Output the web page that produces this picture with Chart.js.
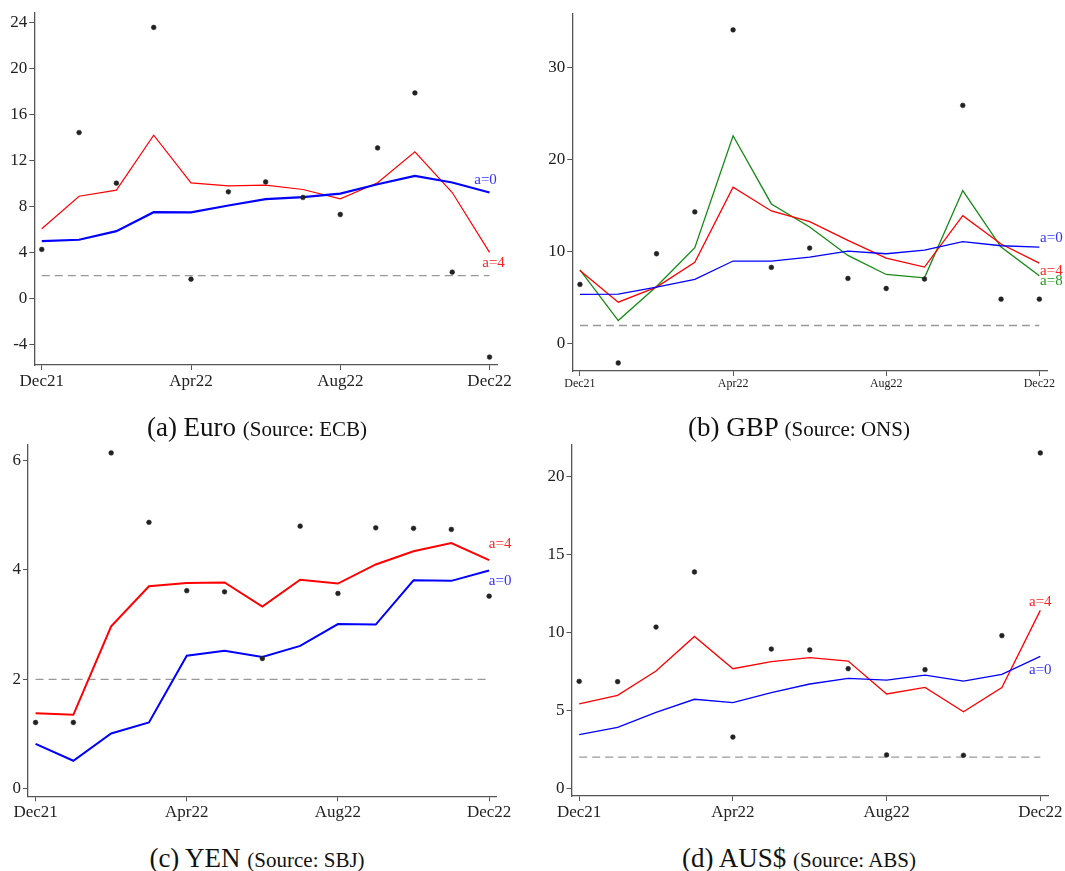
<!DOCTYPE html>
<html>
<head>
<meta charset="utf-8">
<script src="https://cdn.jsdelivr.net/npm/chart.js@4.4.1/dist/chart.umd.min.js"></script>
<style>
  body { margin: 0; background: #fff; width: 1065px; height: 871px; position: relative; overflow: hidden; font-family: "Liberation Serif", serif; }
  canvas { position: absolute; }
  .cap { position: absolute; width: 400px; text-align: center; font-size: 27px; color: #111; white-space: nowrap; line-height: 30px; }
  .cap span { font-size: 21px; }
</style>
</head>
<body>
<canvas id="euro" width="530" height="400" style="left:0;top:0"></canvas>
<canvas id="gbp" width="535" height="400" style="left:530px;top:0"></canvas>
<canvas id="yen" width="530" height="400" style="left:0;top:430px"></canvas>
<canvas id="aus" width="535" height="400" style="left:530px;top:430px"></canvas>
<div class="cap" style="left:57px;top:412px">(a) Euro <span>(Source: ECB)</span></div>
<div class="cap" style="left:599px;top:412px">(b) GBP <span>(Source: ONS)</span></div>
<div class="cap" style="left:57px;top:843px">(c) YEN <span>(Source: SBJ)</span></div>
<div class="cap" style="left:599px;top:843px">(d) AUS$ <span>(Source: ABS)</span></div>
<script>
// months Dec21..Dec22
var months = ['Dec21','Jan22','Feb22','Mar22','Apr22','May22','Jun22','Jul22','Aug22','Sep22','Oct22','Nov22','Dec22'];
var tickMonths = [0, 4, 8, 12];
var tickLabels = ['Dec21', 'Apr22', 'Aug22', 'Dec22'];
var target = 2;

var euroObs = [4.28,14.42,10.03,23.55,1.70,9.28,10.14,8.79,7.31,13.09,17.86,2.31,-5.06];
var euroA0  = [5.00,5.12,5.87,7.51,7.49,8.09,8.64,8.82,9.13,9.94,10.66,10.09,9.22];
var euroA4  = [6.07,8.90,9.42,14.19,10.06,9.80,9.86,9.48,8.67,10.06,12.75,9.22,4.02];
var euroTicks = [-4,0,4,8,12,16,20,24];

var gbpObs = [6.46,-2.07,9.79,14.33,34.10,8.31,10.41,7.11,6.02,7.04,25.90,4.86,4.86];
var gbpA0  = [5.37,5.40,6.17,7.00,9.00,9.00,9.43,10.08,9.79,10.19,11.10,10.66,10.52];
var gbpA4  = [7.98,4.53,6.17,8.85,17.01,14.44,13.28,11.24,9.32,8.34,13.93,10.85,8.78];
var gbpA8  = [8.05,2.54,6.24,10.45,22.60,15.20,12.70,9.61,7.54,7.18,16.65,10.52,7.40];
var gbpTicks = [0,10,20,30];

var yenObs = [1.21,1.21,6.14,4.87,3.62,3.60,2.38,4.80,3.57,4.77,4.76,4.74,3.52];
var yenA0  = [0.82,0.51,1.01,1.21,2.43,2.52,2.41,2.61,3.01,3.00,3.81,3.80,3.99];
var yenA4  = [1.38,1.35,2.97,3.70,3.76,3.77,3.33,3.82,3.75,4.10,4.34,4.49,4.18];
var yenTicks = [0,2,4,6];

var ausObs = [6.86,6.84,10.34,13.87,3.29,8.93,8.87,7.67,2.14,7.61,2.12,9.79,21.50];
var ausA0  = [3.44,3.91,4.87,5.71,5.49,6.13,6.69,7.05,6.94,7.26,6.88,7.31,8.46];
var ausA4  = [5.41,5.96,7.52,9.74,7.67,8.12,8.38,8.16,6.05,6.47,4.91,6.47,11.41];
var ausTicks = [0,5,10,15,20];

var FONT = '"Liberation Serif", serif';
var AXIS = '#555';

function pts(arr) {
  return arr.map(function (v, i) { return { x: i, y: v }; });
}

// writes "a=0" etc next to the last point of a line
function endLabels(list) {
  return {
    id: 'endLabels',
    afterDatasetsDraw: function (chart) {
      var ctx = chart.ctx;
      ctx.save();
      ctx.font = '15px ' + FONT;
      ctx.textAlign = 'center';
      ctx.textBaseline = 'middle';
      list.forEach(function (l) {
        var meta = chart.getDatasetMeta(l.ds);
        var p = meta.data[meta.data.length - 1];
        ctx.fillStyle = l.color;
        ctx.fillText(l.text, p.x + l.dx, p.y + l.dy);
      });
      ctx.restore();
    }
  };
}

function makeChart(id, o) {
  var datasets = [
    { data: pts(o.obs), showLine: false, pointRadius: 2.4, pointBackgroundColor: '#222', pointBorderColor: '#222', pointBorderWidth: 0.5, order: 0 }
  ];
  o.lines.forEach(function (l) {
    datasets.push({ data: pts(l.data), borderColor: l.color, borderWidth: l.width, pointRadius: 0, tension: 0, order: 1 });
  });
  datasets.push({ data: [{ x: 0, y: target }, { x: months.length - 1, y: target }], borderColor: '#999', borderWidth: 1.3, borderDash: [8, 5], pointRadius: 0, order: 2 });

  return new Chart(document.getElementById(id), {
    type: 'line',
    data: { datasets: datasets },
    options: {
      responsive: false,
      animation: false,
      devicePixelRatio: 1,
      layout: { padding: { top: o.padTop, right: o.padRight, left: 0, bottom: 0 } },
      plugins: { legend: { display: false }, tooltip: { enabled: false } },
      scales: {
        x: {
          type: 'linear', min: -0.2, max: 12.2,
          afterBuildTicks: function (s) { s.ticks = tickMonths.map(function (v) { return { value: v }; }); },
          afterFit: function (s) { s.height = o.xHeight; },
          ticks: {
            autoSkip: false, maxRotation: 0, padding: 1, color: '#222',
            font: { family: FONT, size: o.xFont },
            callback: function (v) { return tickLabels[tickMonths.indexOf(v)]; }
          },
          grid: { drawOnChartArea: false, drawTicks: true, tickLength: 5, color: AXIS },
          border: { color: AXIS, width: 1.3 }
        },
        y: {
          min: o.yMin, max: o.yMax,
          afterBuildTicks: function (s) { s.ticks = o.yTicks.map(function (v) { return { value: v }; }); },
          afterFit: function (s) { s.width = o.yWidth; },
          ticks: { padding: 2, color: '#222', font: { family: FONT, size: 17 } },
          grid: { drawOnChartArea: false, drawTicks: true, tickLength: 5, color: AXIS },
          border: { color: AXIS, width: 1.3 }
        }
      }
    },
    plugins: [endLabels(o.labels)]
  });
}

makeChart('euro', {
  obs: euroObs, yMin: -5.75, yMax: 24.8, yTicks: euroTicks,
  yWidth: 34.3, padTop: 13, padRight: 33, xHeight: 35, xFont: 17,
  lines: [
    { data: euroA0, color: '#0000ff', width: 2.2 },
    { data: euroA4, color: '#ff0000', width: 1.2 }
  ],
  labels: [
    { ds: 1, text: 'a=0', color: '#3333ff', dx: -4, dy: -12 },
    { ds: 2, text: 'a=4', color: '#ff2222', dx: 4, dy: 11 }
  ]
});

makeChart('gbp', {
  obs: gbpObs, yMin: -2.94, yMax: 35.9, yTicks: gbpTicks,
  yWidth: 42.3, padTop: 13.3, padRight: 18, xHeight: 29, xFont: 12,
  lines: [
    { data: gbpA0, color: '#0000ff', width: 1.3 },
    { data: gbpA4, color: '#ff0000', width: 1.3 },
    { data: gbpA8, color: '#138a13', width: 1.3 }
  ],
  labels: [
    { ds: 1, text: 'a=0', color: '#3333ff', dx: 12, dy: -8.5 },
    { ds: 2, text: 'a=4', color: '#ff2222', dx: 12, dy: 7.5 },
    { ds: 3, text: 'a=8', color: '#229922', dx: 12, dy: 5.5 }
  ]
});

makeChart('yen', {
  obs: yenObs, yMin: -0.14, yMax: 6.29, yTicks: yenTicks,
  yWidth: 28, padTop: 14.7, padRight: 33.3, xHeight: 33.7, xFont: 17,
  lines: [
    { data: yenA0, color: '#0000ff', width: 2 },
    { data: yenA4, color: '#ff0000', width: 2 }
  ],
  labels: [
    { ds: 1, text: 'a=0', color: '#3333ff', dx: 11, dy: 11 },
    { ds: 2, text: 'a=4', color: '#ff2222', dx: 11, dy: -16 }
  ]
});

makeChart('aus', {
  obs: ausObs, yMin: -0.49, yMax: 22.03, yTicks: ausTicks,
  yWidth: 41.5, padTop: 14.7, padRight: 17, xHeight: 34, xFont: 17,
  lines: [
    { data: ausA0, color: '#0000ff', width: 1.3 },
    { data: ausA4, color: '#ff0000', width: 1.3 }
  ],
  labels: [
    { ds: 1, text: 'a=0', color: '#3333ff', dx: 0, dy: 14 },
    { ds: 2, text: 'a=4', color: '#ff2222', dx: 0, dy: -8 }
  ]
});
</script>
</body>
</html>
